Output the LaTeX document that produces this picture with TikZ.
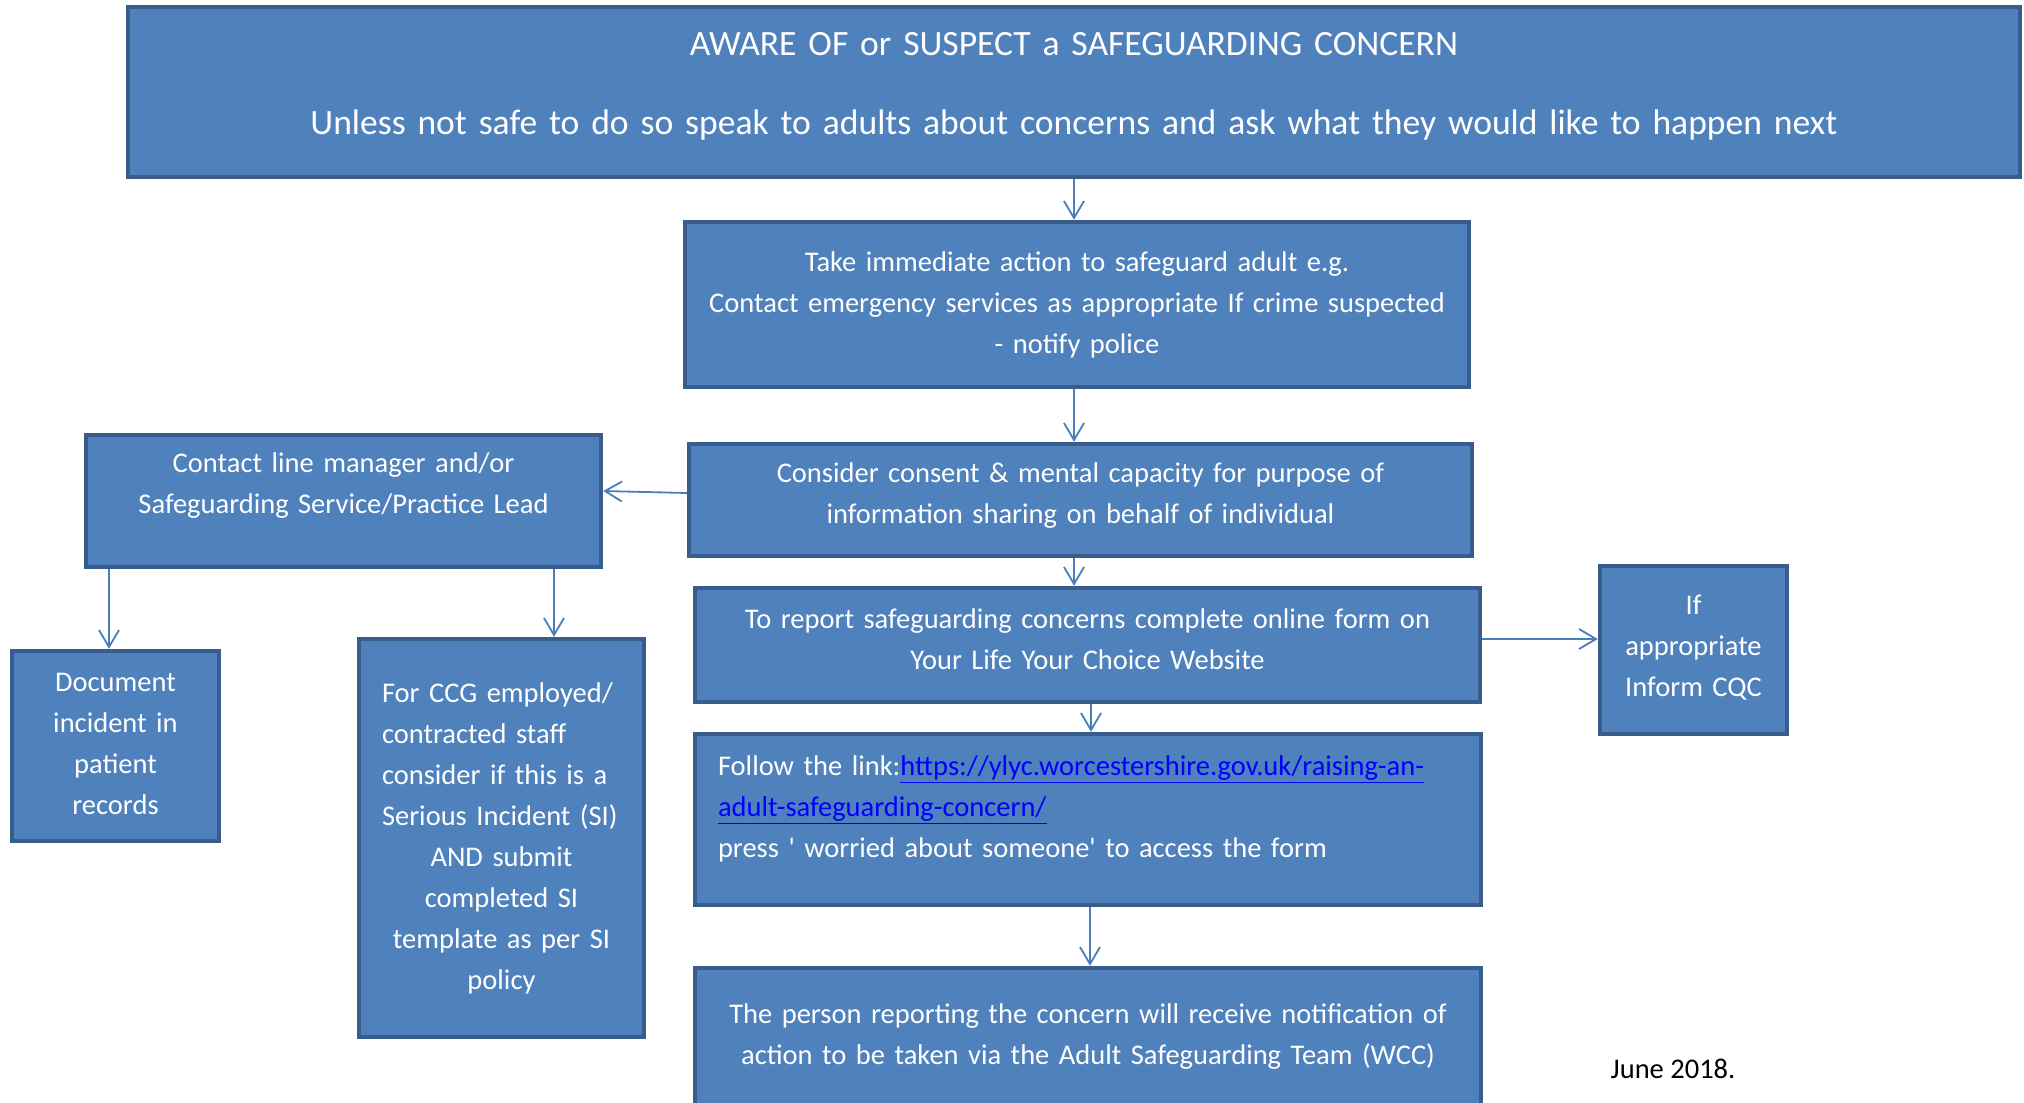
\documentclass[tikz,border=0pt]{standalone}
\usepackage{fontspec}
\setmainfont{Carlito}[Ligatures=TeXOff]
\usetikzlibrary{arrows.meta}

\definecolor{boxfill}{HTML}{4F81BD}
\definecolor{boxline}{HTML}{385D8A}
\definecolor{flowline}{HTML}{4A7EBB}
\definecolor{linkblue}{HTML}{0000FF}

% extra room under the text, lifts it inside its box
\newcommand{\padbelow}[1]{\par\vskip#1\kern0pt}
\newcommand{\weblink}[1]{\textcolor{linkblue}{\underline{#1}}}

\tikzset{
    box/.style={
        rectangle,
        draw=boxline,
        line width=2.2pt,
        fill=boxfill,
        text=white,
        inner sep=0pt,
        align=center,
        font=\fontsize{14.25}{20.5}\selectfont
    },
    headbox/.style={
        box,
        font=\fontsize{17.8}{22}\selectfont
    },
    arrow/.style={
        -{Straight Barb[length=8.5pt,width=10pt]},
        draw=flowline,
        line width=0.9pt
    },
    note/.style={
        font=\fontsize{14.25}{20.5}\selectfont,
        text=black
    }
}

\begin{document}
\begin{tikzpicture}[x=0.5pt, y=-0.5pt]

    \useasboundingbox (0,0) rectangle (2024,1103);

    % Header
    \node[headbox, minimum width=946pt, minimum height=85pt, text width=930pt] (top) at (1074,92)
        {AWARE OF or SUSPECT a SAFEGUARDING CONCERN\\[17.5pt]
         Unless not safe to do so speak to adults about concerns and ask what they would like to happen next\padbelow{6pt}};

    % Main column
    \node[box, minimum width=392pt, minimum height=82.5pt, text width=380pt] (take) at (1077,304.5)
        {Take immediate action to safeguard adult e.g.\\
         Contact emergency services as appropriate If crime suspected\\
         - notify police};
    \node[box, minimum width=391.5pt, minimum height=56pt, text width=380pt] (consent) at (1080.5,500)
        {Consider consent \& mental capacity for purpose of\\
         information sharing on behalf of individual\padbelow{4.5pt}};
    \node[box, minimum width=392.5pt, minimum height=57pt, text width=380pt] (report) at (1087.5,645)
        {To report safeguarding concerns complete online form on\\
         Your Life Your Choice Website\padbelow{5.5pt}};
    \node[box, align=left, minimum width=393pt, minimum height=85.5pt, text width=370pt] (follow) at (1088,819.5)
        {Follow the link:\weblink{https://ylyc.worcestershire.gov.uk/raising-an-}\\
         \weblink{adult-safeguarding-concern/}\\
         press ' worried about someone' to access the form\padbelow{11pt}};
    \node[box, minimum width=393pt, minimum height=69pt, text width=380pt] (person) at (1088,1037)
        {The person reporting the concern will receive notification of\\
         action to be taken via the Adult Safeguarding Team (WCC)};

    % Left branch
    \node[box, minimum width=257.5pt, minimum height=66pt, text width=250pt] (contact) at (343.5,501)
        {Contact line manager and/or\\
         Safeguarding Service/Practice Lead\padbelow{15pt}};
    \node[box, minimum width=103.5pt, minimum height=95pt, text width=100pt] (doc) at (115.5,746)
        {Document\\ incident in\\ patient\\ records\padbelow{2.5pt}};
    \node[box, minimum width=142.5pt, minimum height=199pt, text width=119.5pt] (ccg) at (501.5,838)
        {{\raggedright For CCG employed/\\ contracted staff\\ consider if this is a\\ \mbox{Serious Incident (SI)}\par}
         AND submit\\ completed SI\\ template as per SI\\ policy};

    % Right branch
    \node[box, minimum width=93.5pt, minimum height=84pt, text width=90pt] (cqc) at (1693.5,650)
        {If\\ appropriate\\ Inform CQC\padbelow{2.5pt}};

    % Date
    \node[note, anchor=base] (date) at (1673,1078) {June 2018.};

    % Arrows
    \draw[arrow] ([xshift=-1.5pt]take.north |- top.south) -- ([xshift=-1.5pt]take.north);
    \draw[arrow] ([xshift=-3.25pt]consent.north |- take.south) -- ([xshift=-3.25pt]consent.north);
    \draw[arrow] ([xshift=-6.75pt]report.north |- consent.south) -- ([xshift=-6.75pt]report.north);
    \draw[arrow] ([xshift=1.5pt]follow.north |- report.south) -- ([xshift=1.5pt]follow.north);
    \draw[arrow] ([xshift=1pt]person.north |- follow.south) -- ([xshift=1pt]person.north);
    \draw[arrow] ([yshift=3pt]report.east) -- ([yshift=3pt]report.east -| cqc.west);
    \draw[arrow] ([yshift=3.5pt]consent.west) -- ([yshift=5pt]contact.east);
    \draw[arrow] ([xshift=-3.25pt]doc.north |- contact.south) -- ([xshift=-3.25pt]doc.north);
    \draw[arrow] ([xshift=26.25pt]ccg.north |- contact.south) -- ([xshift=26.25pt]ccg.north);

\end{tikzpicture}
\end{document}
